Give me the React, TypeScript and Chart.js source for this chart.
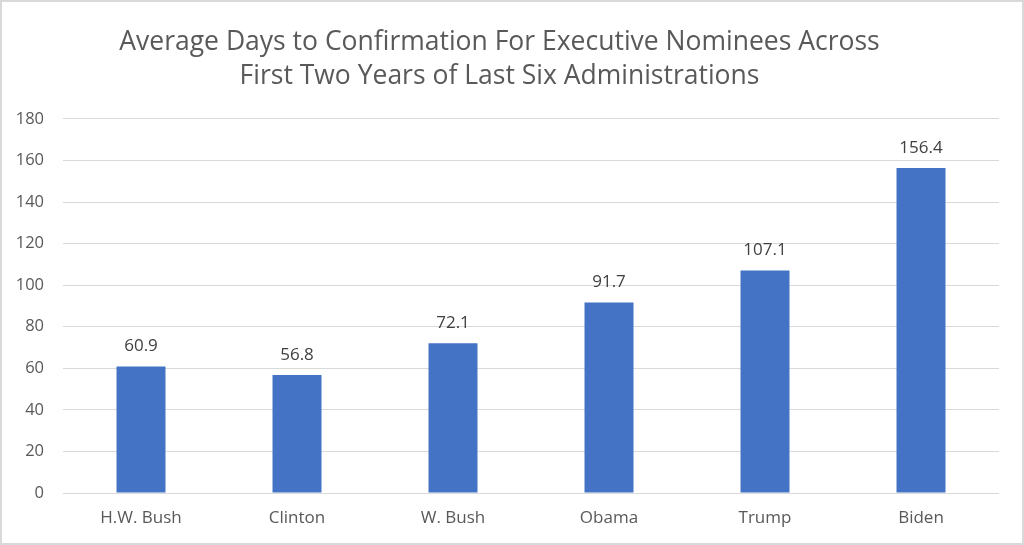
import React, { useEffect, useRef } from "react";
import { Chart, registerables } from "chart.js";

Chart.register(...registerables);

const categories = ["H.W. Bush", "Clinton", "W. Bush", "Obama", "Trump", "Biden"];
const avgDays = [60.9, 56.8, 72.1, 91.7, 107.1, 156.4];
const titleLines = [
  "Average Days to Confirmation For Executive Nominees Across",
  "First Two Years of Last Six Administrations",
];
const yMin = 0;
const yMax = 180;
const yStep = 20;

const FONT = "'Open Sans', 'Noto Sans', sans-serif";

const borderPlugin = {
  id: "frameBorder",
  beforeDraw(chart: any) {
    const { ctx, width, height } = chart;
    ctx.save();
    ctx.fillStyle = "#ffffff";
    ctx.fillRect(0, 0, width, height);
    ctx.strokeStyle = "#d9d9d9";
    ctx.lineWidth = 2;
    ctx.strokeRect(1, 1, width - 2, height - 2);
    ctx.restore();
  },
};

const valueLabelPlugin = {
  id: "valueLabels",
  afterDatasetsDraw(chart: any) {
    const { ctx } = chart;
    const meta = chart.getDatasetMeta(0);
    ctx.save();
    ctx.font = `17px ${FONT}`;
    ctx.fillStyle = "#404040";
    ctx.textAlign = "center";
    ctx.textBaseline = "middle";
    meta.data.forEach((bar: any, i: number) => {
      const v = chart.data.datasets[0].data[i];
      ctx.fillText(String(v), bar.x, bar.y - 20);
    });
    ctx.restore();
  },
};

export default function App() {
  const ref = useRef<HTMLCanvasElement | null>(null);

  useEffect(() => {
    document.body.style.margin = "0";
    if (!ref.current) return;
    const chart = new Chart(ref.current, {
      type: "bar",
      data: {
        labels: categories,
        datasets: [
          {
            data: avgDays,
            backgroundColor: "#4472c4",
            barPercentage: 0.314,
            categoryPercentage: 1,
          },
        ],
      },
      options: {
        animation: false,
        responsive: false,
        devicePixelRatio: 1,
        layout: { padding: { left: 0, right: 25, top: 0, bottom: 0 } },
        plugins: {
          legend: { display: false },
          tooltip: { enabled: false },
          title: {
            display: true,
            text: titleLines,
            color: "#595959",
            font: { family: FONT, size: 26.5, weight: "normal" as any, lineHeight: 1.283 },
            padding: { top: 25, bottom: 26 },
          },
        },
        scales: {
          x: {
            grid: { display: false, drawTicks: false },
            border: { display: false },
            ticks: {
              color: "#595959",
              font: { family: FONT, size: 17 },
              padding: 15,
              maxRotation: 0,
            },
            afterFit: (s: any) => {
              s.height = 52;
            },
          },
          y: {
            min: yMin,
            max: yMax,
            grid: { color: "#d9d9d9", lineWidth: 1, drawTicks: false },
            border: { display: false },
            ticks: {
              stepSize: yStep,
              color: "#595959",
              font: { family: FONT, size: 16.5 },
              padding: 19,
            },
            afterFit: (s: any) => {
              s.width = 63;
            },
          },
        },
      },
      plugins: [borderPlugin, valueLabelPlugin],
    });
    return () => chart.destroy();
  }, []);

  return (
    <div style={{ width: 1024, height: 545 }}>
      <canvas ref={ref} width={1024} height={545} style={{ display: "block" }} />
    </div>
  );
}
